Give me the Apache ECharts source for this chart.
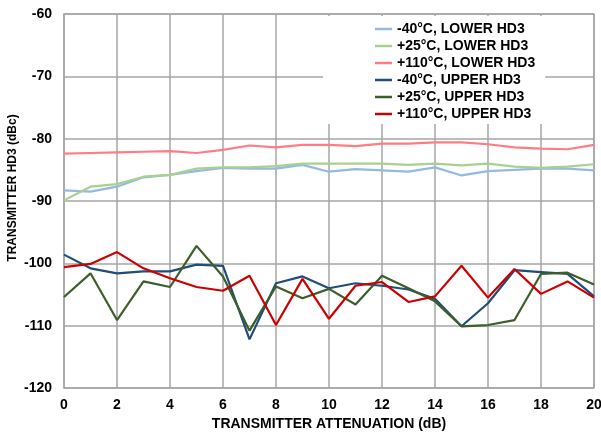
<!DOCTYPE html>
<html>
<head>
<meta charset="utf-8">
<script src="https://cdn.jsdelivr.net/npm/echarts@6/dist/echarts.min.js"></script>
<style>html,body{margin:0;padding:0;background:#fff;}#c{width:601px;height:436px;}</style>
</head>
<body>
<div id="c"></div>
<script>
var attenuation = [0,1,2,3,4,5,6,7,8,9,10,11,12,13,14,15,16,17,18,19,20];
var seriesNames = ['-40°C, LOWER HD3','+25°C, LOWER HD3','+110°C, LOWER HD3','-40°C, UPPER HD3','+25°C, UPPER HD3','+110°C, UPPER HD3'];
var lowerM40 = [-88.3,-88.5,-87.7,-86.2,-85.8,-85.2,-84.7,-84.8,-84.8,-84.2,-85.3,-84.9,-85.1,-85.3,-84.6,-85.9,-85.2,-85.0,-84.8,-84.8,-85.1];
var lowerP25 = [-89.9,-87.7,-87.3,-86.1,-85.8,-84.8,-84.6,-84.6,-84.4,-84.0,-84.0,-84.0,-84.0,-84.2,-84.0,-84.3,-84.0,-84.5,-84.7,-84.5,-84.1];
var lowerP110 = [-82.4,-82.3,-82.2,-82.1,-82.0,-82.3,-81.8,-81.1,-81.4,-81.0,-81.0,-81.2,-80.8,-80.8,-80.6,-80.6,-80.9,-81.4,-81.6,-81.7,-81.0];
var upperM40 = [-98.6,-100.8,-101.6,-101.3,-101.3,-100.2,-100.4,-112.2,-103.2,-102.1,-104.0,-103.2,-103.6,-104.2,-105.7,-110.1,-106.4,-101.1,-101.4,-101.7,-105.3];
var upperP25 = [-105.4,-101.6,-109.1,-102.9,-103.8,-97.2,-102.1,-110.8,-103.7,-105.6,-104.1,-106.6,-102.0,-104.0,-106.1,-110.1,-109.9,-109.1,-101.7,-101.5,-103.4];
var upperP110 = [-100.6,-100.1,-98.2,-100.8,-102.4,-103.8,-104.4,-102.0,-109.9,-102.5,-108.9,-103.6,-103.0,-106.2,-105.3,-100.4,-105.5,-100.9,-104.9,-102.9,-105.5];
var colors = ['#95B9E1','#A9D18E','#FF7C80','#1F4E79','#3B5E2B','#CC0000'];
var allData = [lowerM40, lowerP25, lowerP110, upperM40, upperP25, upperP110];

var font = 'Liberation Sans, Arial, sans-serif';
var chart = echarts.init(document.getElementById('c'));
var series = allData.map(function(d, i){
  return {
    name: seriesNames[i],
    type: 'line',
    symbol: 'none',
    data: attenuation.map(function(x, j){ return [x, d[j]]; }),
    lineStyle: {color: colors[i], width: 2.2},
    itemStyle: {color: colors[i]},
    z: 3
  };
});
chart.setOption({
  animation: false,
  backgroundColor: '#fff',
  grid: {left: 64, right: 7, top: 14, bottom: 48, show: true, borderColor: '#A6A6A6', borderWidth: 1.5, backgroundColor: 'transparent', containLabel: false, outerBoundsMode: 'none'},
  legend: {
    orient: 'vertical',
    left: 323, top: 16,
    padding: [5, 10, 2, 52],
    backgroundColor: '#fff',
    icon: 'rect',
    itemWidth: 17, itemHeight: 2.5, itemGap: 1,
    textStyle: {fontFamily: font, fontWeight: 'bold', fontSize: 14, color: '#000', lineHeight: 16},
    data: seriesNames
  },
  xAxis: {
    type: 'value', min: 0, max: 20, interval: 2,
    name: 'TRANSMITTER ATTENUATION (dB)', nameLocation: 'middle', nameGap: 28,
    nameTextStyle: {fontFamily: font, fontWeight: 'bold', fontSize: 14, color: '#000'},
    axisLine: {show: false}, axisTick: {show: false},
    axisLabel: {fontFamily: font, fontWeight: 'bold', fontSize: 14, color: '#000', margin: 10},
    splitLine: {show: true, lineStyle: {color: '#A6A6A6', width: 1.5}}
  },
  yAxis: {
    type: 'value', min: -120, max: -60, interval: 10,
    name: 'TRANSMITTER HD3 (dBc)', nameLocation: 'middle', nameGap: 45, nameRotate: 90,
    nameMoveOverlap: false,
    nameTextStyle: {fontFamily: font, fontWeight: 'bold', fontSize: 12, color: '#000', padding: [0, 0, 0, 26]},
    axisLine: {show: false}, axisTick: {show: false},
    axisLabel: {fontFamily: font, fontWeight: 'bold', fontSize: 14, color: '#000', margin: 12},
    splitLine: {show: true, lineStyle: {color: '#A6A6A6', width: 1.5}}
  },
  series: series
});
</script>
</body>
</html>
